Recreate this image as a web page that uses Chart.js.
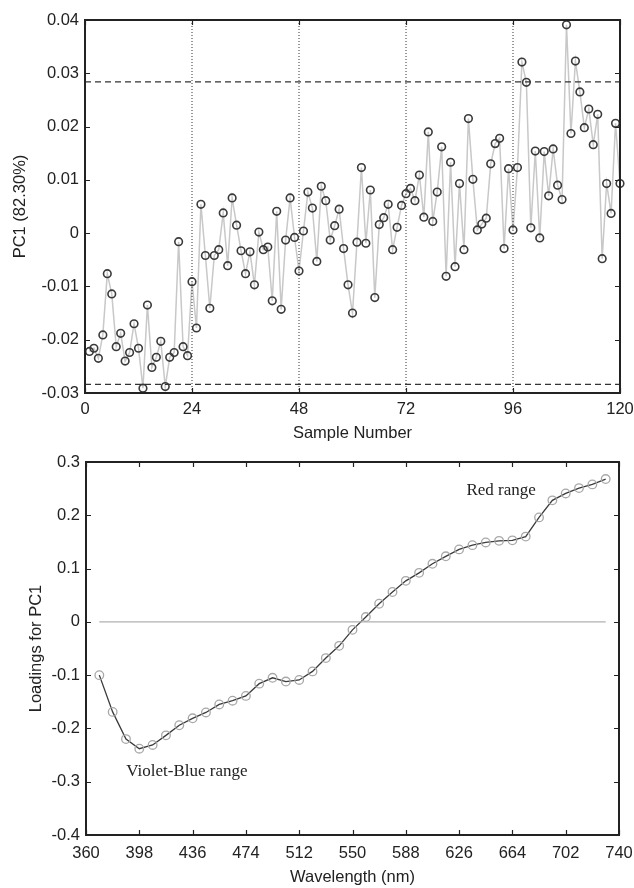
<!DOCTYPE html>
<html>
<head>
<meta charset="utf-8">
<script src="https://cdn.jsdelivr.net/npm/chart.js@4.4.1/dist/chart.umd.min.js"></script>
<style>
  body { margin: 0; background: #fff; }
  .box { position: absolute; left: 0; width: 634px; height: 444px; }
</style>
</head>
<body>
<div class="box" style="top:0"><canvas id="scores" width="634" height="444"></canvas></div>
<div class="box" style="top:444px"><canvas id="loadings" width="634" height="444"></canvas></div>
<script>
// PC1 scores for samples 1..120
const pc1Scores = [
  -0.0222, -0.0216, -0.0235, -0.0191, -0.0076, -0.0114, -0.0213, -0.0188, -0.0240, -0.0224,
  -0.0170, -0.0216, -0.0291, -0.0135, -0.0252, -0.0233, -0.0203, -0.0288, -0.0233, -0.0224,
  -0.0016, -0.0213, -0.0230, -0.0091, -0.0178, 0.0054, -0.0042, -0.0141, -0.0042, -0.0031,
  0.0038, -0.0061, 0.0066, 0.0015, -0.0033, -0.0076, -0.0035, -0.0097, 0.0002, -0.0031,
  -0.0026, -0.0127, 0.0041, -0.0143, -0.0013, 0.0066, -0.0008, -0.0071, 0.0004, 0.0077,
  0.0047, -0.0053, 0.0088, 0.0061, -0.0013, 0.0014, 0.0045, -0.0029, -0.0097, -0.0150,
  -0.0017, 0.0123, -0.0019, 0.0081, -0.0121, 0.0016, 0.0029, 0.0054, -0.0031, 0.0011,
  0.0052, 0.0074, 0.0084, 0.0061, 0.0109, 0.0030, 0.0190, 0.0022, 0.0077, 0.0162,
  -0.0081, 0.0133, -0.0063, 0.0093, -0.0031, 0.0215, 0.0101, 0.0006, 0.0017, 0.0028,
  0.0130, 0.0168, 0.0178, -0.0029, 0.0121, 0.0006, 0.0123, 0.0321, 0.0283, 0.0010,
  0.0154, -0.0009, 0.0153, 0.0070, 0.0158, 0.0090, 0.0063, 0.0391, 0.0187, 0.0323,
  0.0265, 0.0198, 0.0233, 0.0166, 0.0223, -0.0048, 0.0093, 0.0037, 0.0206, 0.0093
];
const sampleTicks = [0, 24, 48, 72, 96, 120];
const groupBounds = [24, 48, 72, 96];
const controlLimit = 0.0284;

// PC1 loadings against wavelength
const wavelengths = [
  369.5, 379, 388.5, 398, 407.5, 417, 426.5, 436, 445.5, 455,
  464.5, 474, 483.5, 493, 502.5, 512, 521.5, 531, 540.5, 550,
  559.5, 569, 578.5, 588, 597.5, 607, 616.5, 626, 635.5, 645,
  654.5, 664, 673.5, 683, 692.5, 702, 711.5, 721, 730.5
];
const loadings = [
  -0.100, -0.169, -0.220, -0.238, -0.231, -0.213, -0.194, -0.181, -0.170, -0.155,
  -0.148, -0.139, -0.116, -0.105, -0.112, -0.109, -0.093, -0.068, -0.045, -0.015,
  0.009, 0.034, 0.056, 0.077, 0.092, 0.109, 0.123, 0.136, 0.144, 0.149,
  0.152, 0.153, 0.160, 0.196, 0.228, 0.241, 0.251, 0.258, 0.268
];
const wlTicks = [360, 398, 436, 474, 512, 550, 588, 626, 664, 702, 740];
const rangeNotes = [
  { text: 'Red range', x: 656, y: 0.247 },
  { text: 'Violet-Blue range', x: 432, y: -0.281 }
];

const sans = "'Liberation Sans', Arial, sans-serif";

// box around the plot with inward ticks, plus text notes
const frame = {
  id: 'frame',
  afterDraw(chart, args, opts) {
    const { ctx, chartArea: a, scales: { x, y } } = chart;
    ctx.save();
    ctx.strokeStyle = '#222';
    ctx.lineWidth = 1.2;
    ctx.beginPath();
    x.ticks.forEach(t => {
      const px = Math.round(x.getPixelForValue(t.value)) + 0.5;
      ctx.moveTo(px, a.bottom); ctx.lineTo(px, a.bottom - 5);
      ctx.moveTo(px, a.top); ctx.lineTo(px, a.top + 5);
    });
    y.ticks.forEach(t => {
      const py = Math.round(y.getPixelForValue(t.value)) + 0.5;
      ctx.moveTo(a.left, py); ctx.lineTo(a.left + 5, py);
      ctx.moveTo(a.right, py); ctx.lineTo(a.right - 5, py);
    });
    ctx.stroke();
    ctx.lineWidth = 2;
    ctx.strokeRect(a.left, a.top, a.width, a.height);
    (opts.notes || []).forEach(n => {
      ctx.fillStyle = '#222';
      ctx.font = "17px 'Liberation Serif', 'Times New Roman', serif";
      ctx.textAlign = 'center';
      ctx.textBaseline = 'middle';
      ctx.fillText(n.text, x.getPixelForValue(n.x), y.getPixelForValue(n.y));
    });
    ctx.restore();
  }
};

function axes(xMin, xMax, yMin, yMax, yStep, xTitle, yTitle, yTitlePad, yWidth, xHeight, xPad, xTickList) {
  return {
    x: {
      type: 'linear', min: xMin, max: xMax,
      grid: { display: false, drawTicks: false }, border: { display: false },
      afterBuildTicks: s => { s.ticks = xTickList.map(v => ({ value: v })); },
      ticks: { color: '#222', font: { family: sans, size: 16.5 }, padding: xPad, maxRotation: 0,
               callback: v => String(v) },
      title: { display: true, text: xTitle, color: '#222', font: { family: sans, size: 16.5 },
               padding: { top: 0, bottom: 1 } },
      afterFit: s => { s.height = xHeight; s.paddingLeft = 0; s.paddingRight = 0; }
    },
    y: {
      min: yMin, max: yMax,
      grid: { display: false, drawTicks: false }, border: { display: false },
      ticks: { stepSize: yStep, color: '#222', font: { family: sans, size: 16.5 }, padding: 6,
               callback: v => String(+v.toFixed(3)) },
      title: { display: true, text: yTitle, color: '#222', font: { family: sans, size: 16.5 },
               padding: { top: yTitlePad, bottom: 0 } },
      afterFit: s => { s.width = yWidth; s.paddingTop = 0; s.paddingBottom = 0; }
    }
  };
}

const scoreSets = [
  ...groupBounds.map(b => ({
    data: [{ x: b, y: -0.03 }, { x: b, y: 0.04 }],
    borderColor: '#333', borderWidth: 1, borderDash: [1, 2], pointRadius: 0
  })),
  ...[controlLimit, -controlLimit].map(l => ({
    data: [{ x: 0, y: l }, { x: 120, y: l }],
    borderColor: '#333', borderWidth: 1.2, borderDash: [6, 4], pointRadius: 0
  })),
  {
    data: pc1Scores.map((v, i) => ({ x: i + 1, y: v })),
    borderColor: '#c8c8c8', borderWidth: 1.5,
    pointRadius: 3.8, pointBorderColor: '#3a3a3a', pointBorderWidth: 1.6,
    pointBackgroundColor: 'rgba(0,0,0,0)'
  }
];

new Chart(document.getElementById('scores'), {
  type: 'line',
  data: { datasets: scoreSets },
  options: {
    responsive: false, animation: false,
    layout: { padding: { left: 0, right: 14, top: 20, bottom: 0 } },
    datasets: { line: { clip: false, tension: 0 } },
    plugins: { legend: { display: false }, tooltip: { enabled: false }, frame: {} },
    scales: axes(0, 120, -0.03, 0.04, 0.01, 'Sample Number', 'PC1 (82.30%)', 11, 85, 51, 7, sampleTicks)
  },
  plugins: [frame]
});

new Chart(document.getElementById('loadings'), {
  type: 'line',
  data: {
    datasets: [
      {
        data: [{ x: wavelengths[0], y: 0 }, { x: wavelengths[wavelengths.length - 1], y: 0 }],
        borderColor: '#b0b0b0', borderWidth: 1.2, pointRadius: 0
      },
      {
        data: wavelengths.map((w, i) => ({ x: w, y: loadings[i] })),
        borderColor: '#3a3a3a', borderWidth: 1.3,
        pointRadius: 4.3, pointBorderColor: '#a8a8a8', pointBorderWidth: 1.3,
        pointBackgroundColor: 'rgba(0,0,0,0)'
      }
    ]
  },
  options: {
    responsive: false, animation: false,
    layout: { padding: { left: 0, right: 15, top: 18, bottom: 0 } },
    datasets: { line: { clip: false, tension: 0 } },
    plugins: { legend: { display: false }, tooltip: { enabled: false }, frame: { notes: rangeNotes } },
    scales: axes(360, 740, -0.4, 0.3, 0.1, 'Wavelength (nm)', 'Loadings for PC1', 27, 86, 53, 9, wlTicks)
  },
  plugins: [frame]
});
</script>
</body>
</html>
